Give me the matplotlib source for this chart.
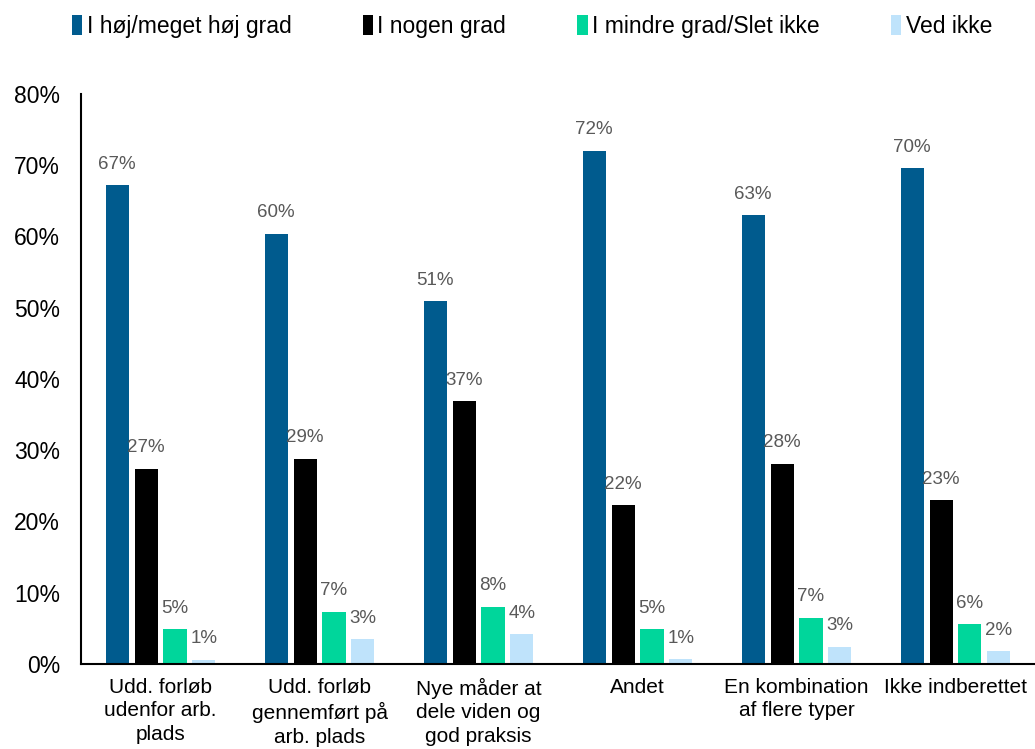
import matplotlib
matplotlib.use("Agg")
import matplotlib.pyplot as plt
import numpy as np

categories = ["Udd. forløb\nudenfor arb.\nplads", "Udd. forløb\ngennemført på\narb. plads",
              "Nye måder at\ndele viden og\ngod praksis", "Andet",
              "En kombination\naf flere typer", "Ikke indberettet"]
series_names = ["I høj/meget høj grad", "I nogen grad", "I mindre grad/Slet ikke", "Ved ikke"]
hoej = [67.2, 60.4, 50.9, 72.0, 63.0, 69.6]
nogen = [27.4, 28.8, 36.9, 22.3, 28.1, 23.0]
mindre = [4.9, 7.3, 8.0, 4.9, 6.5, 5.6]
vedikke = [0.6, 3.5, 4.2, 0.7, 2.4, 1.8]
labels_hoej = ["67%", "60%", "51%", "72%", "63%", "70%"]
labels_nogen = ["27%", "29%", "37%", "22%", "28%", "23%"]
labels_mindre = ["5%", "7%", "8%", "5%", "7%", "6%"]
labels_vedikke = ["1%", "3%", "4%", "1%", "3%", "2%"]
yticks = [0, 10, 20, 30, 40, 50, 60, 70, 80]

colors = ["#005B8E", "#000000", "#00D69B", "#BFE3FB"]
plt.rcParams['font.family'] = ['Liberation Sans', 'DejaVu Sans']

fig = plt.figure(figsize=(10.35, 7.49), dpi=100)
ax = fig.add_axes([0.0783, 0.1135, 0.9217, 0.761])

x = np.arange(len(categories))
step = 0.182
width = 0.145
all_vals = [hoej, nogen, mindre, vedikke]
all_labels = [labels_hoej, labels_nogen, labels_mindre, labels_vedikke]
for i, (vals, labs) in enumerate(zip(all_vals, all_labels)):
    pos = x + (i - 1.5) * step
    bars = ax.bar(pos, vals, width=width, color=colors[i], label=series_names[i], zorder=2)
    for b, lab in zip(bars, labs):
        ax.annotate(lab, (b.get_x() + b.get_width() / 2, b.get_height()),
                    xytext=(0, 9), textcoords="offset points", ha="center", va="bottom",
                    fontsize=13.5, color="#595959")

ax.set_xlim(-0.5, len(categories) - 0.5)
ax.set_ylim(0, 80)
ax.set_yticks(yticks)
ax.set_yticklabels([f"{t}%" for t in yticks], fontsize=16.5)
ax.set_xticks(x)
ax.set_xticklabels(categories, fontsize=15, linespacing=1.3)
ax.tick_params(axis='y', length=0, pad=15)
ax.tick_params(axis='x', length=0, pad=10)
for s in ["top", "right"]:
    ax.spines[s].set_visible(False)
ax.spines["left"].set_linewidth(1.5)
ax.spines["bottom"].set_linewidth(1.5)

fig.legend(loc="upper center", bbox_to_anchor=(0.514, 1.008), ncol=4, frameon=False,
           fontsize=16.5, handlelength=0.45, handleheight=1.0, handletextpad=0.2,
           columnspacing=3.1)

fig.savefig("out.png", dpi=100)
